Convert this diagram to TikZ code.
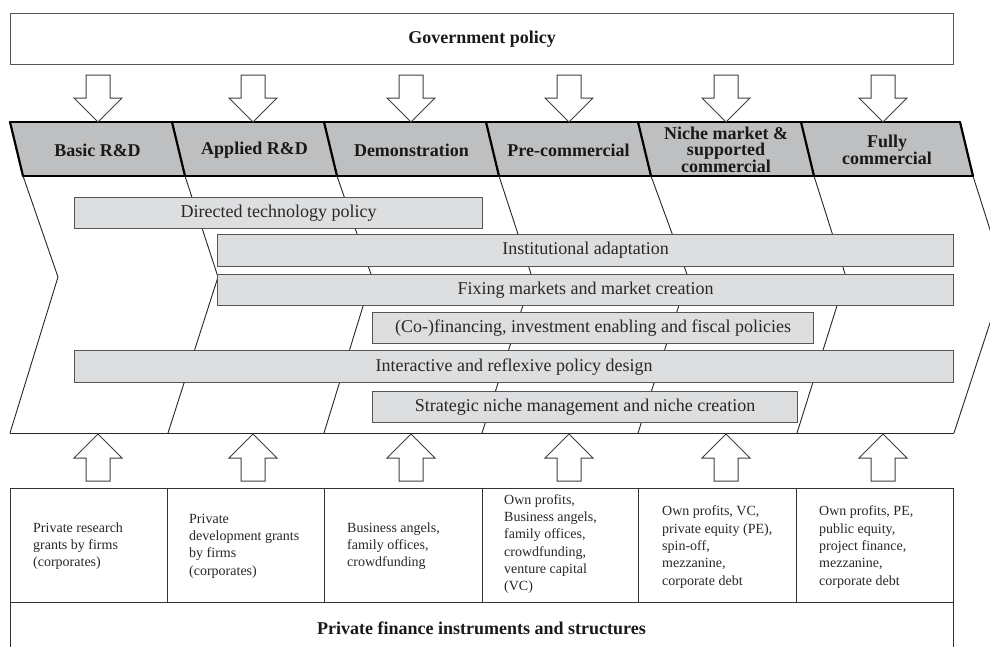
\documentclass[tikz,border=0pt]{standalone}
\usepackage{fontspec}
\setmainfont{Liberation Serif}
\definecolor{bandgray}{RGB}{190,191,193}
\definecolor{bargray}{RGB}{221,222,224}
\definecolor{edgegray}{RGB}{85,85,85}
\definecolor{txtgray}{RGB}{40,40,40}
\tikzset{
  bandline/.style={line width=2.2pt, black, line cap=round, line join=round},
  chevline/.style={line width=0.9pt, black!85},
  bar/.style={draw=edgegray, line width=1.2pt, fill=bargray, inner sep=0pt, anchor=north west,
    font=\fontsize{18}{20}\selectfont, text=txtgray},
  hdr/.style={font=\bfseries\fontsize{18}{16}\selectfont, align=center, text=black!90, inner sep=0pt},
  fintext/.style={font=\fontsize{14}{17.3}\selectfont, align=left, anchor=west, inner sep=0pt, text=txtgray},
  frame/.style={draw=black!80, line width=0.9pt},
  blockarrow/.style={draw=black!75, line width=1pt, fill=white, line join=miter},
}
\begin{document}
\begin{tikzpicture}[x=1pt, y=-1pt]
\useasboundingbox (0,0) rectangle (990,646);
\clip (0,0) rectangle (990,646);
\fill[white] (0,0) rectangle (990,646);

% Government policy
\node[draw=edgegray, line width=1pt, minimum width=943pt, minimum height=51pt, inner sep=0pt,
      anchor=north west] (gov) at (10,13) {};
\node[font=\bfseries\fontsize{18}{20}\selectfont, text=black!90] (govtext) at (gov.center) {Government policy};

% Phase band
\fill[bandgray] (10,122) -- (960,122) -- (973,176) -- (23,176) -- cycle;
\draw[bandline] (10,122) -- (960,122);
\draw[bandline] (23,176) -- (973,176);
\foreach \t/\b in {10/23,172/185,324/337,486/499,638/651,801/814,960/973}{
  \draw[bandline] (\t,122) -- (\b,176);
}
\node[hdr] (p1) at (97.5,150) {Basic R\&D};
\node[hdr] (p2) at (254.5,150) {Applied R\&D};
\node[hdr] (p3) at (411.5,150) {Demonstration};
\node[hdr] (p4) at (568.5,150) {Pre-commercial};
\node[hdr] (p5) at (726,150) {Niche market \&\\supported\\commercial};
\node[hdr] (p6) at (887,150) {Fully\\commercial};

% Chevrons
\foreach \b/\tp/\bt in {23/58/10,185/218/168,337/372/324,499/532/482,651/688/638,814/846/797,973/1005/954}{
  \draw[chevline] (\b,176) -- (\tp,277) -- (\bt,433);
}
\draw[chevline] (10,433) -- (954,433);

% Policy bars
\node[bar, minimum width=408pt, minimum height=31pt] (dtp) at (74,197) {Directed technology policy};
\node[bar, minimum width=736pt, minimum height=32pt] (ia) at (217,234) {Institutional adaptation};
\node[bar, minimum width=736pt, minimum height=31pt] (fm) at (217,274) {Fixing markets and market creation};
\node[bar, minimum width=441pt, minimum height=31pt] (cof) at (372,312) {(Co-)financing, investment enabling and fiscal policies};
\node[bar, minimum width=879pt, minimum height=32pt] (irp) at (74,350) {Interactive and reflexive policy design};
\node[bar, minimum width=425pt, minimum height=31pt] (snm) at (372,391) {Strategic niche management and niche creation};

% Down block arrows
\foreach \cx in {98,253,411,569,726,883}{
  \draw[blockarrow] (\cx-12,75) -- (\cx+12,75) -- (\cx+12,98) -- (\cx+24,98) -- (\cx,122)
     -- (\cx-24,98) -- (\cx-12,98) -- cycle;
}
% Up block arrows
\foreach \cx in {98,253,411,569,726,883}{
  \draw[blockarrow] (\cx,434) -- (\cx+24,458) -- (\cx+12,458) -- (\cx+12,481) -- (\cx-12,481)
     -- (\cx-12,458) -- (\cx-24,458) -- cycle;
}

% Finance boxes
\draw[frame] (10,488) rectangle (953,602);
\foreach \x in {167,324,482,638,796}{
  \draw[frame] (\x,488) -- (\x,602);
}
\draw[frame] (10,602) -- (10,660);
\draw[frame] (953,602) -- (953,660);

\node[fintext] (f1) at (33,546) {Private research\\grants by firms\\(corporates)};
\node[fintext] (f2) at (189,546) {Private\\development grants\\by firms\\(corporates)};
\node[fintext] (f3) at (347,546) {Business angels,\\family offices,\\crowdfunding};
\node[fintext] (f4) at (504,544) {Own profits,\\Business angels,\\family offices,\\crowdfunding,\\venture capital\\(VC)};
\node[fintext] (f5) at (662,547) {Own profits, VC,\\private equity (PE),\\spin-off,\\mezzanine,\\corporate debt};
\node[fintext] (f6) at (819,547) {Own profits, PE,\\public equity,\\project finance,\\mezzanine,\\corporate debt};

\node[font=\bfseries\fontsize{18}{20}\selectfont, text=black!90, inner sep=0pt] (pfi) at (481.5,628) {Private finance instruments and structures};
\end{tikzpicture}
\end{document}
